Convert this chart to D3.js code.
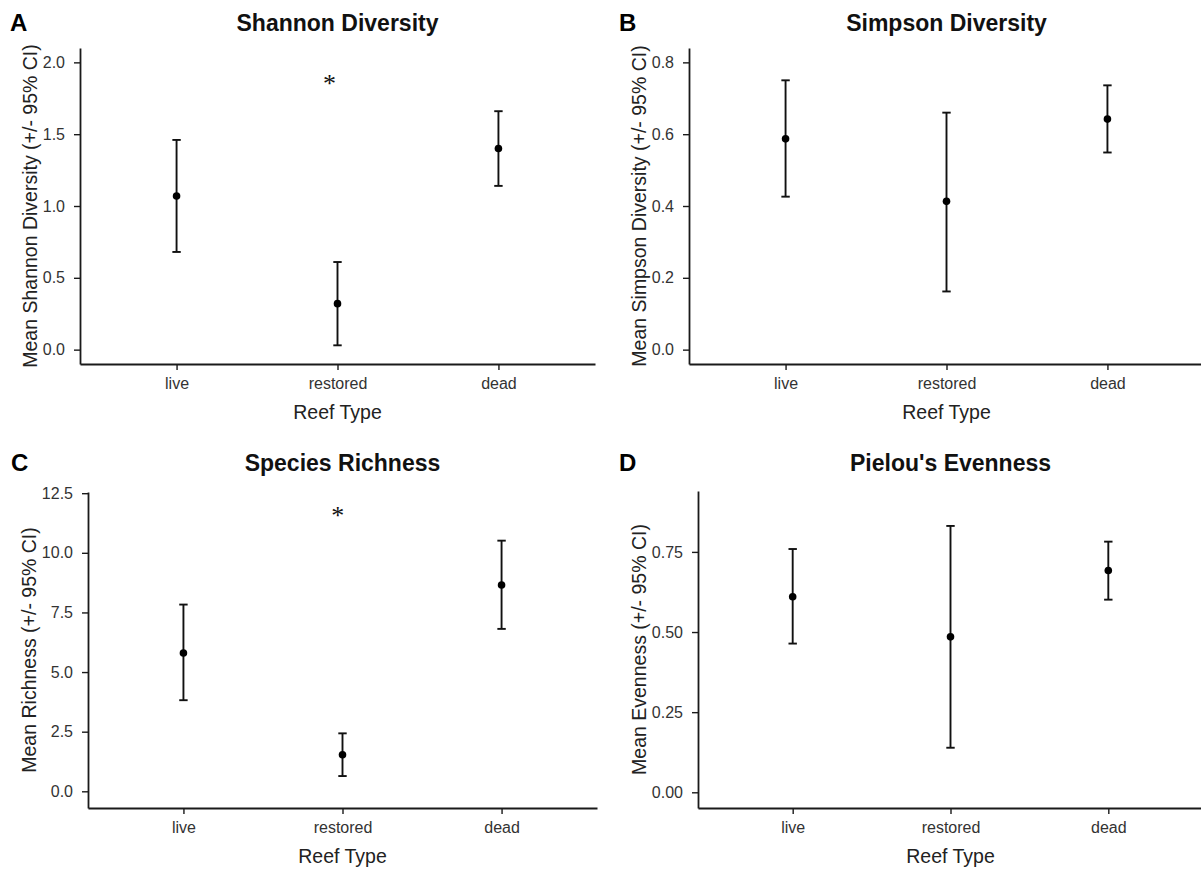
<!DOCTYPE html>
<html>
<head>
<meta charset="utf-8">
<script src="https://cdn.jsdelivr.net/npm/d3@7"></script>
<style>
  html, body { margin: 0; padding: 0; background: #fff; }
  svg { display: block; }
  text { font-family: "Liberation Sans", Arial, sans-serif; }
</style>
</head>
<body>
<script>
// Reef types on the x axis
const categories = ["live", "restored", "dead"];

// Shannon diversity: mean and 95% CI
const shannonMean  = [1.07, 0.32, 1.40];
const shannonLower = [0.68, 0.03, 1.14];
const shannonUpper = [1.46, 0.61, 1.66];

// Simpson diversity
const simpsonMean  = [0.587, 0.413, 0.642];
const simpsonLower = [0.426, 0.162, 0.549];
const simpsonUpper = [0.750, 0.660, 0.736];

// Species richness
const richnessMean  = [5.80, 1.53, 8.65];
const richnessLower = [3.82, 0.64, 6.81];
const richnessUpper = [7.83, 2.43, 10.51];

// Pielou's evenness
const evennessMean  = [0.610, 0.485, 0.692];
const evennessLower = [0.464, 0.139, 0.601];
const evennessUpper = [0.759, 0.831, 0.782];

// Tick values per panel
const shannonTicks  = [0, 0.5, 1.0, 1.5, 2.0];
const simpsonTicks  = [0, 0.2, 0.4, 0.6, 0.8];
const richnessTicks = [0, 2.5, 5.0, 7.5, 10.0, 12.5];
const evennessTicks = [0, 0.25, 0.50, 0.75];

// Significance markers (x as 1-based category position, y in data units)
const shannonStar  = { x: 1.95, y: 1.85 };
const richnessStar = { x: 1.97, y: 11.55 };

const W = 1201, H = 871;
const svg = d3.select("body").append("svg").attr("width", W).attr("height", H);

const panels = [
  { letter: "A", title: "Shannon Diversity", ylab: "Mean Shannon Diversity (+/- 95% CI)",
    mean: shannonMean, lo: shannonLower, hi: shannonUpper, ticks: shannonTicks, fmt: ".1f",
    star: shannonStar, domain: [-0.1, 2.1],
    left: 80, right: 595, top: 48, bottom: 364, letterX: 10, titleY: 31 },
  { letter: "B", title: "Simpson Diversity", ylab: "Mean Simpson Diversity (+/- 95% CI)",
    mean: simpsonMean, lo: simpsonLower, hi: simpsonUpper, ticks: simpsonTicks, fmt: ".1f",
    star: null, domain: [-0.04, 0.84],
    left: 689, right: 1204, top: 48, bottom: 364, letterX: 619, titleY: 31 },
  { letter: "C", title: "Species Richness", ylab: "Mean Richness (+/- 95% CI)",
    mean: richnessMean, lo: richnessLower, hi: richnessUpper, ticks: richnessTicks, fmt: ".1f",
    star: richnessStar, domain: [-0.7, 12.55],
    left: 88, right: 597, top: 492, bottom: 808, letterX: 11, titleY: 471 },
  { letter: "D", title: "Pielou's Evenness", ylab: "Mean Evenness (+/- 95% CI)",
    mean: evennessMean, lo: evennessLower, hi: evennessUpper, ticks: evennessTicks, fmt: ".2f",
    star: null, domain: [-0.049, 0.94],
    left: 698, right: 1203, top: 491, bottom: 808, letterX: 619, titleY: 471 }
];

const axisColor = "#1a1a1a";
const tickTextColor = "#333";

panels.forEach(p => {
  const g = svg.append("g");
  const x = d3.scalePoint().domain(categories).range([p.left, p.right]).padding(0.6);
  // numeric position along the discrete axis (1 = first category)
  const xPos = d3.scaleLinear().domain([1, categories.length])
    .range([x(categories[0]), x(categories[categories.length - 1])]);
  const y = d3.scaleLinear().domain(p.domain).range([p.bottom, p.top]);

  // y axis
  const yAxis = g.append("g")
    .attr("transform", `translate(${p.left},0)`)
    .call(d3.axisLeft(y).tickValues(p.ticks).tickFormat(d3.format(p.fmt))
      .tickSizeInner(6).tickSizeOuter(0).tickPadding(9));
  // x axis
  const xAxis = g.append("g")
    .attr("transform", `translate(0,${p.bottom})`)
    .call(d3.axisBottom(x).tickSizeInner(6).tickSizeOuter(0).tickPadding(8));

  [yAxis, xAxis].forEach(a => {
    a.select(".domain").attr("stroke", axisColor).attr("stroke-width", 1.8);
    a.selectAll(".tick line").attr("stroke", axisColor).attr("stroke-width", 1.4);
    a.selectAll(".tick text").attr("fill", tickTextColor)
      .style("font-size", "16px").style("font-family", "'Liberation Sans', Arial, sans-serif");
  });

  // error bars
  const capHalf = 4.2;
  const bars = g.append("g").selectAll("g").data(categories).join("g");
  bars.append("line")
    .attr("x1", d => x(d)).attr("x2", d => x(d))
    .attr("y1", (d, i) => y(p.lo[i])).attr("y2", (d, i) => y(p.hi[i]))
    .attr("stroke", "#111").attr("stroke-width", 1.9);
  bars.append("line")
    .attr("x1", d => x(d) - capHalf).attr("x2", d => x(d) + capHalf)
    .attr("y1", (d, i) => y(p.hi[i])).attr("y2", (d, i) => y(p.hi[i]))
    .attr("stroke", "#111").attr("stroke-width", 1.9);
  bars.append("line")
    .attr("x1", d => x(d) - capHalf).attr("x2", d => x(d) + capHalf)
    .attr("y1", (d, i) => y(p.lo[i])).attr("y2", (d, i) => y(p.lo[i]))
    .attr("stroke", "#111").attr("stroke-width", 1.9);
  bars.append("circle")
    .attr("cx", d => x(d)).attr("cy", (d, i) => y(p.mean[i]))
    .attr("r", 3.8).attr("fill", "#000");

  // significance asterisk, centred on its position
  if (p.star) {
    const st = g.append("text")
      .attr("x", xPos(p.star.x)).attr("y", y(p.star.y))
      .attr("text-anchor", "middle")
      .style("font-family", "'Liberation Serif', 'Times New Roman', serif")
      .style("font-size", "26px").attr("fill", "#111")
      .text("*");
    const bb = st.node().getBBox();
    st.attr("y", y(p.star.y) + (y(p.star.y) - (bb.y + bb.height / 2)));
  }

  // y axis title, placed just left of the tick labels
  const yb = yAxis.node().getBBox();
  const ty = (p.top + p.bottom) / 2;
  const tx = p.left + yb.x - 6;
  g.append("text")
    .attr("transform", `translate(${tx},${ty}) rotate(-90)`)
    .attr("text-anchor", "middle")
    .attr("fill", "#222")
    .style("font-size", "19.5px")
    .text(p.ylab);

  // x axis title
  g.append("text")
    .attr("x", (p.left + p.right) / 2).attr("y", p.bottom + 55)
    .attr("text-anchor", "middle")
    .attr("fill", "#222")
    .style("font-size", "19.5px")
    .text("Reef Type");

  // panel title
  g.append("text")
    .attr("x", (p.left + p.right) / 2).attr("y", p.titleY)
    .attr("text-anchor", "middle")
    .attr("fill", "#111")
    .style("font-size", "23px").style("font-weight", "bold")
    .text(p.title);

  // panel letter
  g.append("text")
    .attr("x", p.letterX).attr("y", p.titleY)
    .attr("fill", "#000")
    .style("font-size", "24px").style("font-weight", "bold")
    .text(p.letter);
});
</script>
</body>
</html>
